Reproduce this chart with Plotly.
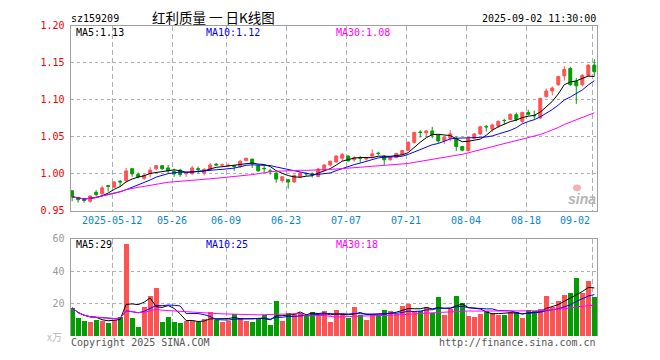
import plotly.graph_objects as go
import pandas as pd

# ---------------- data ----------------
dates = [
    "2025-04-28", "2025-04-29", "2025-04-30", "2025-05-06", "2025-05-07", "2025-05-08", "2025-05-09",
    "2025-05-12", "2025-05-13", "2025-05-14", "2025-05-15", "2025-05-16",
    "2025-05-19", "2025-05-20", "2025-05-21", "2025-05-22", "2025-05-23",
    "2025-05-26", "2025-05-27", "2025-05-28", "2025-05-29", "2025-05-30",
    "2025-06-03", "2025-06-04", "2025-06-05", "2025-06-06",
    "2025-06-09", "2025-06-10", "2025-06-11", "2025-06-12", "2025-06-13",
    "2025-06-16", "2025-06-17", "2025-06-18", "2025-06-19", "2025-06-20",
    "2025-06-23", "2025-06-24", "2025-06-25", "2025-06-26", "2025-06-27",
    "2025-06-30", "2025-07-01", "2025-07-02", "2025-07-03", "2025-07-04",
    "2025-07-07", "2025-07-08", "2025-07-09", "2025-07-10", "2025-07-11",
    "2025-07-14", "2025-07-15", "2025-07-16", "2025-07-17", "2025-07-18",
    "2025-07-21", "2025-07-22", "2025-07-23", "2025-07-24", "2025-07-25",
    "2025-07-28", "2025-07-29", "2025-07-30", "2025-07-31", "2025-08-01",
    "2025-08-04", "2025-08-05", "2025-08-06", "2025-08-07", "2025-08-08",
    "2025-08-11", "2025-08-12", "2025-08-13", "2025-08-14", "2025-08-15",
    "2025-08-18", "2025-08-19", "2025-08-20", "2025-08-21", "2025-08-22",
    "2025-08-25", "2025-08-26", "2025-08-27", "2025-08-28", "2025-08-29",
    "2025-09-01", "2025-09-02",
]

open_ = [0.977, 0.968, 0.965, 0.963, 0.975, 0.973, 0.984, 0.982, 0.990, 0.991,
         1.007, 0.999, 0.994, 1.000, 1.007, 1.011, 1.008, 1.003, 1.005, 1.000,
         1.000, 1.007, 1.001, 1.006, 1.013, 1.012, 1.011, 1.011, 1.010, 1.018,
         1.020, 1.011, 1.0075, 1.004, 1.001, 0.991, 0.992, 0.989, 0.996, 1.0005,
         1.000, 0.9965, 1.005, 1.012, 1.016, 1.021, 1.024, 1.019, 1.0215, 1.020,
         1.024, 1.028, 1.024, 1.019, 1.022, 1.026, 1.032, 1.0425, 1.0565, 1.0555,
         1.058, 1.0525, 1.045, 1.048, 1.048, 1.037, 1.0315, 1.048, 1.054, 1.064,
         1.0605, 1.0645, 1.0722, 1.0735, 1.080, 1.071, 1.083, 1.0787, 1.0755, 1.1045,
         1.112, 1.1205, 1.1325, 1.1425, 1.125, 1.1205, 1.133, 1.147]
high = [0.978, 0.968, 0.967, 0.971, 0.978, 0.984, 0.985, 0.990, 0.992, 1.008,
        1.008, 1.002, 1.000, 1.009, 1.012, 1.012, 1.012, 1.007, 1.007, 1.003,
        1.011, 1.010, 1.008, 1.015, 1.015, 1.014, 1.014, 1.012, 1.019, 1.022,
        1.020, 1.012, 1.011, 1.007, 1.002, 0.997, 0.993, 0.999, 1.002, 1.002,
        1.002, 1.008, 1.013, 1.018, 1.025, 1.0285, 1.025, 1.024, 1.024, 1.023,
        1.033, 1.030, 1.025, 1.023, 1.0285, 1.0325, 1.044, 1.057, 1.059, 1.059,
        1.0635, 1.053, 1.0505, 1.059, 1.0505, 1.0375, 1.049, 1.055, 1.065, 1.066,
        1.068, 1.072, 1.0745, 1.0815, 1.083, 1.084, 1.0865, 1.0855, 1.103, 1.1155,
        1.118, 1.1325, 1.1455, 1.1445, 1.1295, 1.135, 1.148, 1.155]
low = [0.963, 0.961, 0.961, 0.961, 0.969, 0.971, 0.976, 0.981, 0.982, 0.988,
       0.996, 0.994, 0.992, 0.995, 1.005, 1.005, 1.001, 0.996, 0.996, 0.996,
       0.999, 1.001, 0.998, 1.004, 1.011, 1.009, 1.009, 1.004, 1.008, 1.017,
       1.008, 1.003, 1.002, 0.999, 0.988, 0.988, 0.980, 0.988, 0.995, 0.997,
       0.995, 0.9955, 1.0035, 1.010, 1.015, 1.0175, 1.0165, 1.0165, 1.015, 1.018,
       1.021, 1.025, 1.012, 1.018, 1.021, 1.025, 1.031, 1.041, 1.049, 1.050,
       1.048, 1.0415, 1.0405, 1.044, 1.031, 1.0305, 1.0305, 1.047, 1.0525, 1.057,
       1.057, 1.062, 1.0665, 1.0725, 1.071, 1.068, 1.079, 1.0735, 1.0745, 1.103,
       1.106, 1.119, 1.126, 1.119, 1.0945, 1.118, 1.1315, 1.1315]
close = [0.969, 0.965, 0.964, 0.970, 0.972, 0.981, 0.983, 0.989, 0.989, 1.004,
         1.000, 0.996, 0.998, 1.005, 1.011, 1.007, 1.004, 1.000, 0.999, 1.001,
         1.008, 1.006, 1.006, 1.012, 1.012, 1.0123, 1.0115, 1.010, 1.017, 1.021,
         1.014, 1.004, 1.007, 1.0035, 0.993, 0.996, 0.989, 0.998, 1.001, 1.000,
         0.9995, 1.0066, 1.012, 1.017, 1.024, 1.026, 1.0175, 1.022, 1.021, 1.022,
         1.027, 1.0275, 1.019, 1.023, 1.0275, 1.0315, 1.0425, 1.056, 1.056, 1.058,
         1.0525, 1.0445, 1.0495, 1.054, 1.037, 1.032, 1.048, 1.054, 1.0635, 1.0635,
         1.066, 1.071, 1.072, 1.0805, 1.0735, 1.083, 1.0805, 1.0785, 1.102, 1.112,
         1.116, 1.1315, 1.141, 1.1205, 1.119, 1.133, 1.147, 1.138]
volume = [17.4, 11.6, 9.6, 9.0, 10.4, 9.8, 8.4, 10.4, 12.0, 57.0,
          11.4, 6.0, 18.0, 25.2, 30.0, 9.0, 12.0, 9.0, 8.4, 9.4,
          9.4, 8.6, 10.6, 15.0, 10.0, 9.0, 9.4, 13.8, 11.4, 9.6,
          9.0, 11.4, 13.0, 7.2, 21.6, 9.6, 14.4, 14.0, 14.6, 13.0,
          15.0, 13.0, 15.6, 8.6, 16.4, 13.6, 11.6, 18.0, 13.0, 10.4,
          14.0, 13.4, 16.4, 15.6, 14.0, 18.8, 20.0, 15.8, 15.6, 18.0,
          14.4, 24.0, 13.4, 16.6, 24.6, 20.4, 12.6, 12.0, 14.0, 15.6,
          14.4, 13.4, 13.4, 15.0, 15.0, 11.4, 16.4, 15.4, 17.0, 25.0,
          18.0, 21.6, 25.5, 27.0, 36.0, 27.0, 34.4, 24.0]

tick_dates = ["2025-05-12", "2025-05-26", "2025-06-09", "2025-06-23", "2025-07-07",
              "2025-07-21", "2025-08-04", "2025-08-18", "2025-09-02"]
tick_labels = ["2025-05-12", "05-26", "06-09", "06-23", "07-07", "07-21", "08-04", "08-18", "09-02"]
price_ticks = [0.95, 1.00, 1.05, 1.10, 1.15, 1.20]
vol_ticks = [20, 40, 60]

# ---------------- derived ----------------
idx = list(range(len(dates)))
cs = pd.Series(close)
vs = pd.Series(volume)
ma = {n: cs.rolling(n, min_periods=1).mean().tolist() for n in (5, 10, 30)}
vma = {n: vs.rolling(n, min_periods=1).mean().tolist() for n in (5, 10, 30)}

RED = "#ff5252"
GREEN = "#009e00"
MA_COL = {5: "#000000", 10: "#0000ff", 30: "#ff00ff"}
MONO = "DejaVu Sans Mono"
W, H = 660, 360

def px_x(p):
    return p / W

def px_y(p):
    return 1 - p / H

XL, XR = 70.5, 597
xrange_ = [-0.27, 87.45]
grid_x = [dates.index(d) - 0.33 for d in tick_dates]
vol_colors = [RED if c >= o else GREEN for o, c in zip(open_, close)]

fig = go.Figure()
fig.add_trace(go.Candlestick(
    x=idx, open=open_, high=high, low=low, close=close,
    increasing=dict(line=dict(color=RED, width=1), fillcolor=RED),
    decreasing=dict(line=dict(color=GREEN, width=1), fillcolor=GREEN),
    whiskerwidth=0, xaxis="x", yaxis="y", hoverinfo="skip"))
for n in (5, 10, 30):
    fig.add_trace(go.Scatter(x=idx, y=ma[n], mode="lines",
                             line=dict(color=MA_COL[n], width=1),
                             xaxis="x", yaxis="y", hoverinfo="skip"))
fig.add_trace(go.Bar(x=idx, y=volume, marker=dict(color=vol_colors, line=dict(width=0)),
                     width=0.83, xaxis="x2", yaxis="y2", hoverinfo="skip"))
for n in (5, 10, 30):
    fig.add_trace(go.Scatter(x=idx, y=vma[n], mode="lines",
                             line=dict(color=MA_COL[n], width=1),
                             xaxis="x2", yaxis="y2", hoverinfo="skip"))

axis_common = dict(showline=True, linecolor="#a0a0a0", linewidth=1, zeroline=False, ticks="")
fig.update_layout(
    width=W, height=H, margin=dict(l=0, r=0, t=0, b=0),
    paper_bgcolor="white", plot_bgcolor="white", showlegend=False,
    bargap=0,
    xaxis=dict(domain=[px_x(XL), px_x(XR)], range=xrange_, anchor="y",
               tickmode="array", tickvals=grid_x, showticklabels=False,
               showgrid=True, gridcolor="#b0b0b0", griddash="5px,3px", gridwidth=1,
               mirror=True, rangeslider=dict(visible=False), **axis_common),
    yaxis=dict(domain=[px_y(211.3), px_y(20.5)], range=[0.95, 1.20], anchor="x",
               tickmode="array", tickvals=price_ticks,
               ticktext=[f"{t:.2f}" for t in price_ticks],
               tickfont=dict(family=MONO, size=10, color="#ee0000"),
               ticklabelstandoff=3,
               showgrid=True, gridcolor="#b0b0b0", griddash="dot", gridwidth=1,
               mirror=True, **axis_common),
    xaxis2=dict(domain=[px_x(XL), px_x(XR)], range=xrange_, anchor="y2", side="top",
                tickmode="array", tickvals=grid_x, showticklabels=False,
                showgrid=True, gridcolor="#b0b0b0", griddash="5px,3px", gridwidth=1,
                mirror=False, **axis_common),
    yaxis2=dict(domain=[px_y(340.5), px_y(240)], range=[0, 60], anchor="x2",
                tickmode="array", tickvals=vol_ticks, ticktext=[str(v) for v in vol_ticks],
                tickfont=dict(family=MONO, size=10, color="#999999"),
                ticklabelstandoff=3,
                showgrid=True, gridcolor="#b0b0b0", griddash="dot", gridwidth=1,
                mirror=True, **axis_common),
)

ann = []
def text(x, y, s, color="#000000", size=10, family=MONO, xanchor="left", xref="paper", **kw):
    ann.append(dict(x=x, y=y, xref=xref, yref="paper", text=s, showarrow=False,
                    xanchor=xanchor, yanchor="middle",
                    font=dict(family=family, size=size, color=color), **kw))

# date labels
for d, lab in zip(tick_dates, tick_labels):
    gx = dates.index(d) - 0.33
    if d == tick_dates[-1]:
        text(gx - 0.1, px_y(221.7), lab, color="#0a84d0", xanchor="right", xref="x")
    else:
        text(gx, px_y(221.7), lab, color="#0a84d0", xanchor="center", xref="x")

# headers
text(px_x(69), px_y(12.5), "sz159209")
text(px_x(213), px_y(11.5), "红利质量 一 日K线图", size=13.5,
     family="Noto Sans CJK SC", xanchor="center")
text(px_x(597.5), px_y(12.5), "2025-09-02 11:30:00", xanchor="right")

# MA legends
text(px_x(74), px_y(27), "MA5:1.13", color="#000000")
text(px_x(204), px_y(27), "MA10:1.12", color="#0000ff")
text(px_x(334), px_y(27), "MA30:1.08", color="#ff00ff")
text(px_x(74), px_y(246.5), "MA5:29", color="#000000")
text(px_x(204), px_y(246.5), "MA10:25", color="#0000ff")
text(px_x(334), px_y(246.5), "MA30:18", color="#ff00ff")

# footer
text(px_x(69), px_y(347), "Copyright 2025 SINA.COM", color="#555555")
text(px_x(597.5), px_y(347), "http://finance.sina.com.cn", color="#555555", xanchor="right")
text(px_x(64), px_y(341), "x万", color="#bbbbbb", size=10, family="Noto Sans CJK SC", xanchor="right")

# sina watermark
text(px_x(582), px_y(199), "<b><i>sina</i></b>", color="#b4b4b4", size=14,
     family="Arial, Liberation Sans", xanchor="center")

fig.update_layout(annotations=ann)
fig.add_shape(type="circle", xref="paper", yref="paper",
              x0=px_x(573), x1=px_x(581), y0=px_y(191), y1=px_y(184),
              fillcolor="#f6b0b0", line=dict(width=0), layer="above")

fig.write_html("out.html", config={"displayModeBar": False},
               post_script="document.body.style.margin='0px';")
